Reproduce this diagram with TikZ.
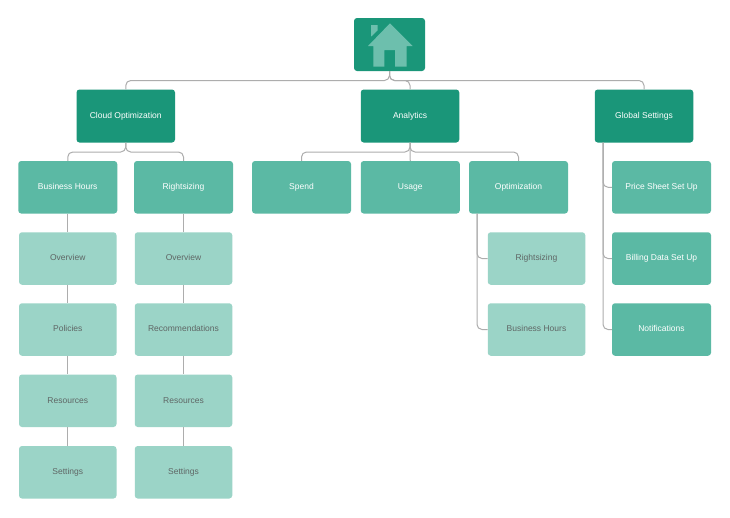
\documentclass[tikz,border=0pt]{standalone}
\usepackage{fontspec}
\setmainfont{Liberation Sans}
\definecolor{darkg}{HTML}{1A9679}
\definecolor{midg}{HTML}{5BB9A4}
\definecolor{lightg}{HTML}{9BD4C7}
\definecolor{houseg}{HTML}{6DBFAD}
\definecolor{linkg}{HTML}{ADADAD}
\definecolor{labelg}{HTML}{5F6665}
\tikzset{
  boxbase/.style={rounded corners=3pt,inner sep=0pt,font=\fontsize{8.5}{10}\selectfont},
  topbox/.style={boxbase,fill=darkg,text=white,minimum width=98.5pt,minimum height=53pt},
  midbox/.style={boxbase,fill=midg,text=white,minimum width=99pt,minimum height=52.5pt},
  lowbox/.style={boxbase,fill=lightg,text=labelg,minimum width=97.5pt,minimum height=52.5pt},
  link/.style={draw=linkg,line width=1pt,rounded corners=5pt},
  straight/.style={draw=linkg,line width=1pt}
}
\begin{document}
\begin{tikzpicture}[x=1pt,y=-1pt]
\useasboundingbox (0,0) rectangle (730,517);
\fill[white] (0,0) rectangle (730,517);
% nodes
\node[boxbase,fill=darkg,minimum width=71pt,minimum height=53pt] (root) at (389.5,44.5) {};
\node[topbox] (cloud) at (125.75,116) {\raisebox{1.2pt}{Cloud Optimization}};
\node[topbox] (analytics) at (410,116) {\raisebox{1.2pt}{Analytics}};
\node[topbox] (global) at (644,116) {\raisebox{1.2pt}{Global Settings}};
\node[midbox] (bh) at (67.75,187.25) {\raisebox{1.2pt}{Business Hours}};
\node[midbox] (rs) at (183.5,187.25) {\raisebox{1.2pt}{Rightsizing}};
\node[midbox] (spend) at (301.5,187.25) {\raisebox{1.2pt}{Spend}};
\node[midbox] (usage) at (410.25,187.25) {\raisebox{1.2pt}{Usage}};
\node[midbox] (opt) at (518.5,187.25) {\raisebox{1.2pt}{Optimization}};
\node[midbox] (price) at (661.5,187.25) {\raisebox{1.2pt}{Price Sheet Set Up}};
\node[midbox] (billing) at (661.5,258.5) {\raisebox{1.2pt}{Billing Data Set Up}};
\node[midbox] (notif) at (661.5,329.5) {\raisebox{1.2pt}{Notifications}};
\node[lowbox] (a1) at (67.75,258.5) {\raisebox{1.2pt}{Overview}};
\node[lowbox] (a2) at (67.75,329.5) {\raisebox{1.2pt}{Policies}};
\node[lowbox] (a3) at (67.75,400.75) {\raisebox{1.2pt}{Resources}};
\node[lowbox] (a4) at (67.75,472.25) {\raisebox{1.2pt}{Settings}};
\node[lowbox] (b1) at (183.5,258.5) {\raisebox{1.2pt}{Overview}};
\node[lowbox] (b2) at (183.5,329.5) {\raisebox{1.2pt}{Recommendations}};
\node[lowbox] (b3) at (183.5,400.75) {\raisebox{1.2pt}{Resources}};
\node[lowbox] (b4) at (183.5,472.25) {\raisebox{1.2pt}{Settings}};
\node[lowbox] (c1) at (536.5,258.5) {\raisebox{1.2pt}{Rightsizing}};
\node[lowbox] (c2) at (536.5,329.5) {\raisebox{1.2pt}{Business Hours}};
% house icon
\fill[houseg] (371,25) -- (377.5,25) -- (377.5,30.5) -- (371,36.7) -- cycle;
\fill[houseg] (390,23.3) -- (412.7,46) -- (406.7,46) -- (406.7,66.7) -- (395,66.7) -- (395,50) -- (384.3,50) -- (384.3,66.7) -- (373.3,66.7) -- (373.3,46) -- (368,46) -- cycle;
% bus y levels and trunk coordinates
\coordinate (busA) at (0,80.5);
\coordinate (busB) at (0,152);
\coordinate (trunkG) at (603,142.5);
\coordinate (trunkO) at (477,213.5);
% connectors
\draw[link] (root.south) -- (root.south |- busA) -- (cloud.north |- busA) -- (cloud.north);
\draw[link] (root.south) -- (root.south |- busA) -- (analytics.north |- busA) -- (analytics.north);
\draw[link] (root.south) -- (root.south |- busA) -- (global.north |- busA) -- (global.north);
\draw[link] (cloud.south) -- (cloud.south |- busB) -- (bh.north |- busB) -- (bh.north);
\draw[link] (cloud.south) -- (cloud.south |- busB) -- (rs.north |- busB) -- (rs.north);
\draw[link] (analytics.south) -- (analytics.south |- busB) -- (spend.north |- busB) -- (spend.north);
\draw[straight] (analytics.south) -- (usage.north);
\draw[link] (analytics.south) -- (analytics.south |- busB) -- (opt.north |- busB) -- (opt.north);
\draw[link] (trunkG) |- (price.west);
\draw[link] (trunkG) |- (billing.west);
\draw[link] (trunkG) |- (notif.west);
\draw[link] (trunkO) |- (c1.west);
\draw[link] (trunkO) |- (c2.west);
\draw[straight] (bh) -- (a1);
\draw[straight] (a1) -- (a2);
\draw[straight] (a2) -- (a3);
\draw[straight] (a3) -- (a4);
\draw[straight] (rs) -- (b1);
\draw[straight] (b1) -- (b2);
\draw[straight] (b2) -- (b3);
\draw[straight] (b3) -- (b4);
\end{tikzpicture}
\end{document}
